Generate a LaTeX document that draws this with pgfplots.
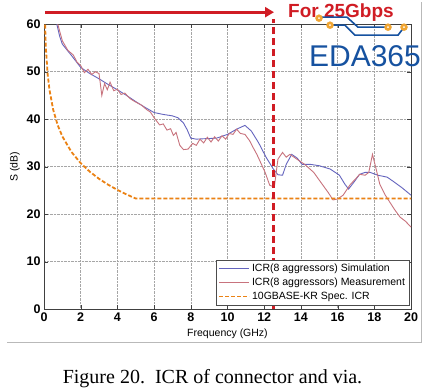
\documentclass[border=0pt]{standalone}
\usepackage{pgfplots}
\pgfplotsset{compat=1.18}
\usepackage{fontspec}
\setmainfont{Liberation Sans}
\newfontfamily\capfont{Liberation Serif}
\usetikzlibrary{arrows.meta}
\definecolor{simblue}{RGB}{100,100,190}
\definecolor{measred}{RGB}{200,115,125}
\definecolor{specorange}{RGB}{235,130,20}
\definecolor{arrowred}{RGB}{208,28,36}
\definecolor{logoblue}{RGB}{22,82,160}
\definecolor{logoorange}{RGB}{240,165,50}
\begin{document}
\begin{tikzpicture}[x=1pt,y=1pt]
\fill[white] (0,0) rectangle (436,386);
\draw[gray!55, line width=0.6pt] (7,46) -- (421,46) -- (421,386);
\begin{axis}[
  at={(44pt,79pt)}, anchor=south west,
  scale only axis, width=367pt, height=285pt,
  xmin=0, xmax=20, ymin=0, ymax=60,
  xtick={0,2,...,20}, ytick={0,10,...,60},
  grid=major, grid style={densely dotted, gray!70, line width=0.5pt},
  axis line style={black!75, line width=0.6pt},
  tick style={black!75},
  tick align=inside,
  /pgf/number format/assume math mode=true,
  ticklabel style={font=\fontsize{12.5}{13}\selectfont\bfseries},
  xlabel={Frequency (GHz)}, ylabel={S (dB)},
  label style={font=\fontsize{10.5}{12}\selectfont},
  clip=false,
  legend cell align=left,
  legend style={at={(0.995,0.014)}, anchor=south east,
    font=\fontsize{10.5}{12}\selectfont, draw=black!70, fill=white,
    row sep=1pt, inner sep=2pt},
  legend image code/.code={\draw[#1] (0pt,0pt) -- (30pt,0pt);},
]
\addplot[simblue, line width=0.9pt] coordinates {
(0.7,60) (0.85,57.5) (1.0,55.8) (1.5,53.4) (2.0,50.9) (2.5,49.6) (3.0,48.5)
(3.5,47.3) (4.0,46.2) (4.5,45.0) (5.0,43.7) (5.5,42.5) (6.0,41.4) (6.5,41.0)
(7.0,40.7) (7.3,40.3) (7.6,39.2) (7.8,37.8) (8.0,36.0) (8.3,35.8) (8.8,35.9)
(9.4,36.0) (10.0,36.8) (10.5,37.9) (10.95,38.7) (11.3,37.5) (11.7,35.0)
(12.1,32.0) (12.5,29.5) (12.75,28.3) (13.0,28.2) (13.2,30.5) (13.5,32.6)
(13.8,31.8) (14.06,30.5) (14.5,30.5) (15.0,30.2) (15.6,29.5) (16.1,28.2)
(16.4,26.3) (16.6,25.3) (16.9,26.8) (17.2,28.4) (17.5,28.8) (17.77,28.8)
(18.2,28.2) (18.7,27.8) (19.0,27.0) (19.5,25.6) (20.0,24.0)
};
\addlegendentry{ICR(8 aggressors) Simulation}
\addplot[measred, line width=0.9pt] coordinates {
(0.75,60) (1.0,56.5) (1.3,54.5) (1.6,53.5) (1.8,52.0) (2.0,51.3) (2.2,49.8)
(2.4,50.5) (2.6,49.4) (2.8,50.0) (3.0,49.6) (3.15,45.0) (3.3,47.5) (3.45,46.2)
(3.6,47.8) (3.8,46.0) (4.0,46.3) (4.2,45.2) (4.4,45.5) (4.7,44.3) (5.0,43.6)
(5.3,43.0) (5.6,42.0) (5.8,41.5) (6.0,40.3) (6.3,38.8) (6.5,39.0) (6.7,37.7)
(6.9,38.0) (7.05,36.6) (7.2,37.2) (7.4,34.5) (7.6,33.6) (7.85,33.7) (8.1,34.9)
(8.3,34.5) (8.5,35.8) (8.7,35.0) (8.9,36.2) (9.1,35.2) (9.3,36.3) (9.5,35.4)
(9.7,36.5) (9.9,35.8) (10.1,37.0) (10.3,36.8) (10.5,37.9) (10.7,37.0)
(10.95,36.8) (11.2,35.5) (11.4,34.0) (11.6,32.6) (11.85,30.5) (12.05,28.8)
(12.3,26.1) (12.55,25.7) (12.75,31.6) (13.0,33.0) (13.2,32.0) (13.4,32.6)
(13.85,31.4) (14.2,30.5) (14.7,28.8) (15.2,26.1) (15.5,24.5) (15.75,23.0)
(16.0,23.2) (16.3,24.0) (16.7,26.3) (17.0,27.5) (17.2,28.4) (17.5,28.2)
(17.7,28.8) (17.9,32.6) (18.05,30.3) (18.3,26.3) (18.6,24.0) (18.85,22.5)
(19.1,21.0) (19.4,19.4) (19.7,18.5) (20.0,17.3)
};
\addlegendentry{ICR(8 aggressors) Measurement}
\addplot[specorange, line width=1.8pt, dash pattern=on 4pt off 2pt] coordinates {
(0.06,59.9) (0.1,55.1) (0.2,49.4) (0.3,46.15) (0.5,42.0) (0.75,38.7)
(1.0,36.37) (1.5,33.08) (2.0,30.74) (2.5,28.93) (3.0,27.45) (3.5,26.2)
(4.0,25.11) (4.5,24.16) (5.0,23.3) (20.0,23.3)
};
\addlegendentry{10GBASE-KR Spec. ICR}
\draw[arrowred, line width=2.5pt, dash pattern=on 7pt off 4pt]
  (axis cs:12.5,0) -- (axis cs:12.5,61);
\end{axis}
\draw[arrowred, line width=3pt, -{Triangle[length=9pt,width=10pt]}] (45,376) -- (274,376);
\node[arrowred, font=\fontsize{19}{20}\selectfont\bfseries] at (341,376) {For 25Gbps};
% logo
\draw[logoblue, line width=1.6pt] (320,371) -- (347,371) -- (358,361) -- (388,361);
\draw[logoblue, line width=1.6pt] (330,363) -- (345,363) -- (355,353) -- (398,353) -- (404,361);
\foreach \p in {(319,370),(330,363),(388,361),(404,361)}
  \filldraw[fill=logoorange, draw=logoorange] \p circle (3.5pt);
\foreach \p in {(319,370),(330,363),(388,361),(404,361)}
  \fill[white] \p circle (1pt);
\node[logoblue, font=\fontsize{30}{30}\selectfont] at (365,332) {EDA365};
\node[anchor=base, font=\capfont\fontsize{20}{22}\selectfont] at (212.5,5) {Figure 20.\ \ ICR of connector and via.};
\end{tikzpicture}
\end{document}
